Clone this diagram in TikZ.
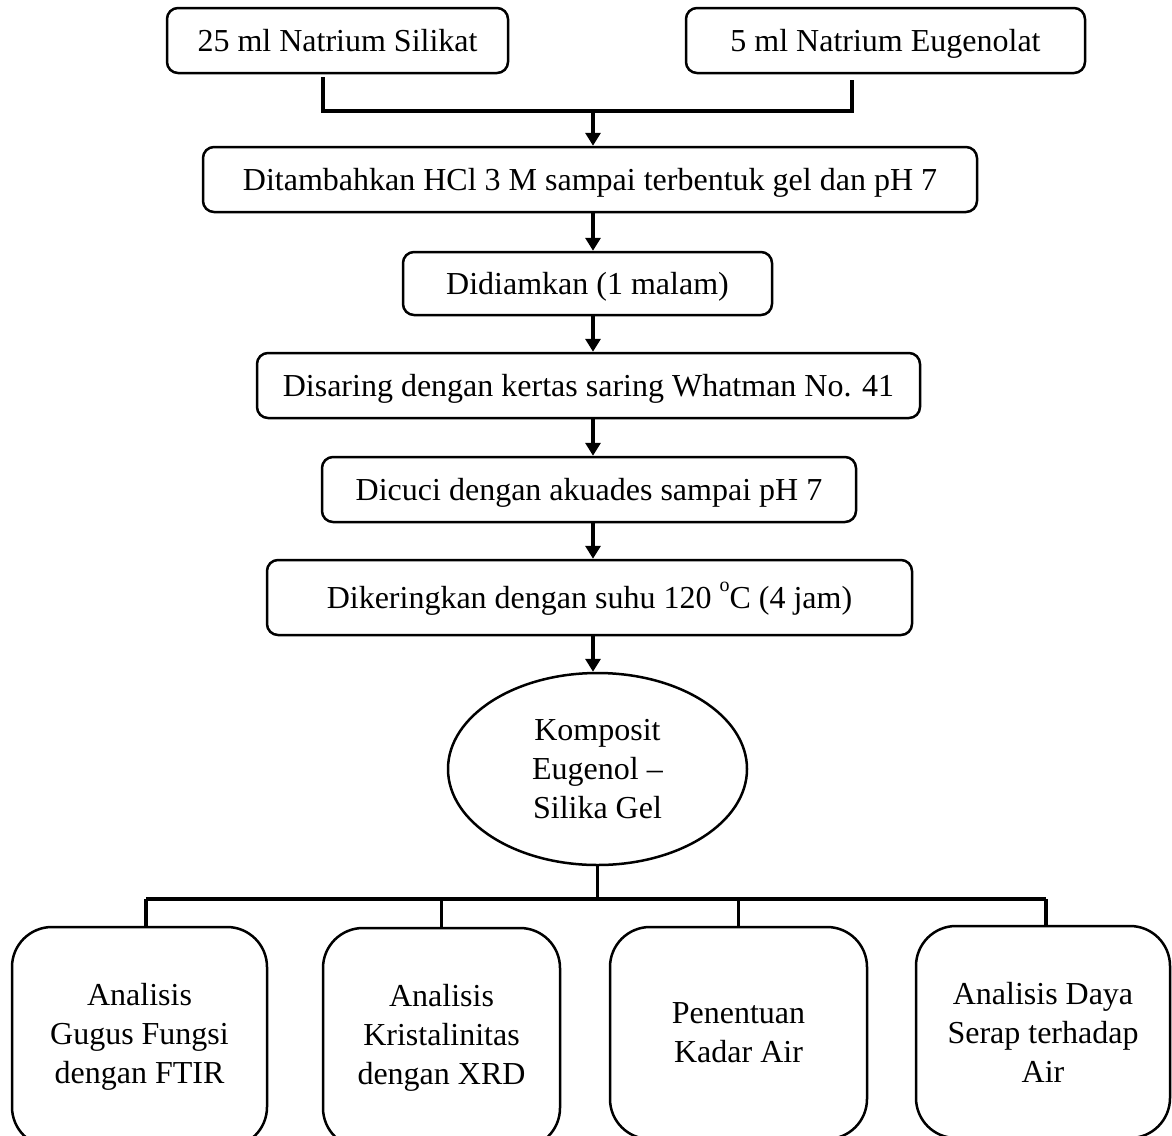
\documentclass[tikz,border=0pt]{standalone}
\usepackage{fontspec}
\setmainfont{Liberation Serif}
\usetikzlibrary{shapes.geometric,arrows.meta}

\begin{document}
\begin{tikzpicture}[x=1pt, y=-1pt,
    link/.style={line width=3.5pt},
    flow/.style={line width=3.5pt, -{Triangle[length=13pt,width=15pt]}}]
\tikzset{every node/.style={draw, line width=2.5pt, inner sep=0pt, align=center,
                            font=\fontsize{32}{39}\selectfont}}
\tikzset{stepbox/.style={rounded corners=11pt, minimum height=65pt,
                         text height=23pt, text depth=2pt}}
\tikzset{testbox/.style={rounded corners=40pt, minimum height=220pt}}
%\tikzset{testbox/.style={rounded corners=30pt,
%                         minimum height=200pt,
%                         text width=220pt
%                        }}
\useasboundingbox (0,0) rectangle (1172,1135);
\fill[white] (0,0) rectangle (1172,1135);
\clip (0,0) rectangle (1172,1135);

% starting materials
\node[stepbox, minimum width=341pt] (silikat) at (337.5,40.5) {25 ml Natrium Silikat};
\node[stepbox, minimum width=399pt] (eugenolat) at (885.5,40.5) {5 ml Natrium Eugenolat};

% process steps
\node[stepbox, minimum width=774pt] (hcl) at (590,179.5)
    {Ditambahkan HCl 3 M sampai terbentuk gel dan pH 7};
\node[stepbox, minimum width=369pt, minimum height=63pt] (diam) at (587.5,283.5)
    {Didiamkan (1 malam)};
\node[stepbox, minimum width=663pt] (saring) at (588.5,385.5)
    {Disaring dengan kertas saring Whatman No. 41};
\node[stepbox, minimum width=534pt] (cuci) at (589,489.5)
    {Dicuci dengan akuades sampai pH 7};
\node[stepbox, minimum width=645pt, minimum height=75pt] (kering) at (589.5,597.5)
    {Dikeringkan dengan suhu 120 \raisebox{17pt}{\fontsize{20}{20}\selectfont o}C (4 jam)};
\node[ellipse, minimum width=299pt, minimum height=192pt] (komposit) at (597.5,769)
    {Komposit\\Eugenol –\\Silika Gel};

% analyses
\node[testbox, minimum width=255pt] (ftir) at (139.5,1037)
    {Analisis\\Gugus Fungsi\\dengan FTIR};
\node[testbox, minimum width=237pt] (xrd) at (441.5,1038)
    {Analisis\\Kristalinitas\\dengan XRD};
\node[testbox, minimum width=257pt, minimum height=212pt] (kadar) at (738.5,1033)
    {Penentuan\\Kadar Air};
\node[testbox, minimum width=254pt, minimum height=212pt] (daya) at (1043,1032)
    {Analisis Daya\\Serap terhadap\\Air};

\coordinate (trunk) at (593,0);
\coordinate (jl) at (323,111);
\coordinate (jr) at (852,111);
\coordinate (bl) at (146,899);
\coordinate (br) at (1046,899);

\draw[link] ([yshift=-3pt]silikat.south -| jl) -- (jl) -- (jr)
    -- ([yshift=-6pt]eugenolat.south -| jr);
\draw[flow] (jl -| trunk) -- (hcl.north -| trunk);
\draw[flow] (hcl.south -| trunk) -- (diam.north -| trunk);
\draw[flow] (diam.south -| trunk) -- (saring.north -| trunk);
\draw[flow] (saring.south -| trunk) -- (cuci.north -| trunk);
\draw[flow] (cuci.south -| trunk) -- (kering.north -| trunk);
\draw[flow] (kering.south -| trunk) -- (komposit.north -| trunk);

\draw[link] (komposit.south) -- (komposit.south |- bl);
\draw[link] (bl) -- (br);
\draw[link] (bl) -- (ftir.north -| bl);
\draw[link] (xrd.north |- bl) -- (xrd.north);
\draw[link] (kadar.north |- bl) -- (kadar.north);
\draw[link] (br) -- (daya.north -| br);
\end{tikzpicture}
\end{document}
